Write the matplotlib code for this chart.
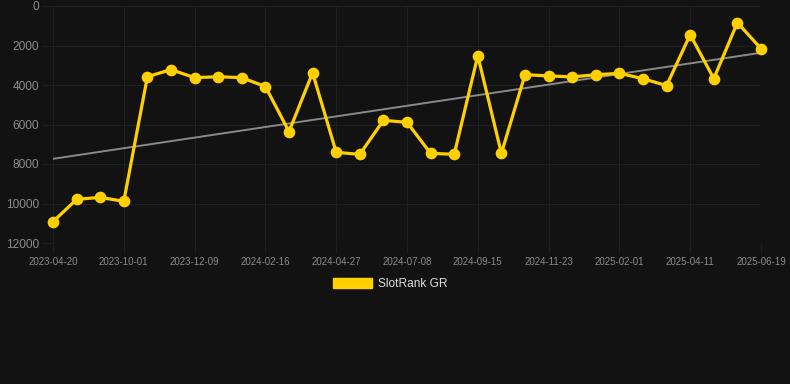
import numpy as np
import matplotlib.pyplot as plt
from matplotlib.patches import Patch

# rank values (lower = better, axis inverted)
ranks = [10920, 9790, 9690, 9890, 3580, 3220, 3630, 3580, 3630, 4080,
         6360, 3380, 7410, 7510, 5790, 5890, 7460, 7510, 2520, 7460,
         3480, 3540, 3590, 3480, 3410, 3680, 4030, 1450, 3680, 840, 2160]
tick_labels = ["2023-04-20", "2023-10-01", "2023-12-09", "2024-02-16",
               "2024-04-27", "2024-07-08", "2024-09-15", "2024-11-23",
               "2025-02-01", "2025-04-11", "2025-06-19"]
y_ticks = [0, 2000, 4000, 6000, 8000, 10000, 12000]

bg = "#121212"
gold = "#FFD000"
grid_c = "#1f1f1f"
plt.rcParams['font.family'] = ['Liberation Sans', 'DejaVu Sans']

fig = plt.figure(figsize=(7.9, 3.84), dpi=100, facecolor=bg)
ax = fig.add_axes([53 / 790, 1 - 243 / 384, (761 - 53) / 790, (243 - 6) / 384])
ax.set_facecolor(bg)

x = np.arange(len(ranks))

# simple linear trend
k, b = np.polyfit(x, ranks, 1)
ax.plot(x, k * x + b, color="#8a8a8a", lw=1.4, zorder=2)

ax.plot(x, ranks, color=gold, lw=2.3, marker="o", ms=7.4, zorder=3,
        clip_on=False)

ax.set_xlim(0, len(ranks) - 1)
ax.set_ylim(12000, 0)
ax.set_yticks(y_ticks)
ax.set_yticklabels([str(v) for v in y_ticks])
ax.set_xticks(x[::3])
ax.set_xticklabels(tick_labels)

ax.tick_params(axis="y", colors=grid_c, labelcolor="#8c8c8c", labelsize=8.6,
               length=8, width=0.8, pad=2)
ax.tick_params(axis="x", colors=grid_c, labelcolor="#8c8c8c", labelsize=7,
               length=7, width=0.8, pad=3)
ax.grid(True, color=grid_c, lw=0.8)
for s in ax.spines.values():
    s.set_visible(False)
ax.axhline(12000, color="#262626", lw=0.8)

fig.legend(handles=[Patch(facecolor=gold, edgecolor=gold, label="SlotRank GR")],
           loc="center", bbox_to_anchor=(390 / 790, 1 - 284 / 384), frameon=False,
           handlelength=3.3, handleheight=1.0, handletextpad=0.5,
           fontsize=8.6, labelcolor="#dddddd")

fig.savefig("out.png", dpi=100, facecolor=bg)
